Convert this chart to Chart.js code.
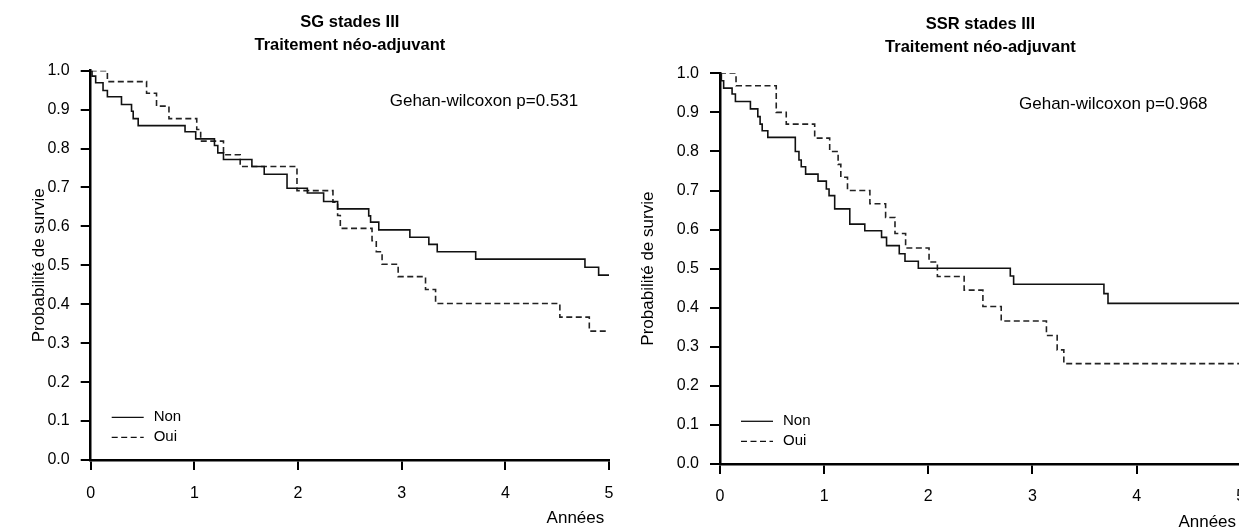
<!DOCTYPE html>
<html><head><meta charset="utf-8">
<script src="https://cdn.jsdelivr.net/npm/chart.js@4/dist/chart.umd.min.js"></script>
<style>
html,body{margin:0;padding:0;background:#fff;overflow:hidden;width:1239px;height:529px;}
#wrapL{position:absolute;left:0;top:0;width:628px;height:529px;}
#wrapR{position:absolute;left:620px;top:0;width:640px;height:533px;}
canvas{display:block;}
</style></head><body>
<div id="wrapL"><canvas id="cL" width="628" height="529"></canvas></div>
<div id="wrapR"><canvas id="cR" width="640" height="533"></canvas></div>
<script>
// ---- data ----
const seriesNames = ['Non', 'Oui'];
const xTickLabels = ['0', '1', '2', '3', '4', '5'];
const yTickLabels = ['0.0','0.1','0.2','0.3','0.4','0.5','0.6','0.7','0.8','0.9','1.0'];
const titlesL = ['SG stades III', 'Traitement néo-adjuvant'];
const titlesR = ['SSR stades III', 'Traitement néo-adjuvant'];
const pTextL = 'Gehan-wilcoxon p=0.531';
const pTextR = 'Gehan-wilcoxon p=0.968';
const xTitle = 'Années';
const yTitle = 'Probabilité de survie';

// SG – Non (solid)
const tL_non = [0, 0.013, 0.048, 0.119, 0.161, 0.297, 0.394, 0.41, 0.458, 0.91, 1.013, 1.194, 1.226, 1.281, 1.555, 1.674, 1.894, 2.09, 2.247, 2.382, 2.682, 2.70, 2.779, 3.079, 3.262, 3.343, 3.714, 4.768, 4.9, 5.0];
const sL_non = [1.0, 0.986, 0.969, 0.949, 0.933, 0.913, 0.896, 0.877, 0.859, 0.843, 0.825, 0.808, 0.789, 0.772, 0.754, 0.734, 0.698, 0.686, 0.664, 0.645, 0.627, 0.611, 0.591, 0.572, 0.554, 0.535, 0.516, 0.495, 0.475, 0.475];
// SG – Oui (dashed)
const tL_oui = [0, 0.161, 0.539, 0.635, 0.755, 1.023, 1.061, 1.281, 1.442, 1.99, 2.337, 2.382, 2.408, 2.714, 2.755, 2.811, 2.966, 3.23, 3.327, 4.526, 4.81, 5.0];
const sL_oui = [1.0, 0.972, 0.942, 0.909, 0.877, 0.849, 0.819, 0.784, 0.754, 0.692, 0.662, 0.628, 0.595, 0.563, 0.535, 0.503, 0.471, 0.438, 0.402, 0.367, 0.331, 0.331];
// SSR – Non (solid)
const tR_non = [0, 0.013, 0.035, 0.116, 0.148, 0.292, 0.363, 0.385, 0.405, 0.459, 0.723, 0.758, 0.78, 0.822, 0.941, 1.021, 1.047, 1.101, 1.246, 1.39, 1.551, 1.599, 1.721, 1.776, 1.904, 2.787, 2.819, 3.686, 3.725, 5.0];
const sR_non = [1.0, 0.981, 0.962, 0.947, 0.928, 0.909, 0.889, 0.87, 0.853, 0.836, 0.8, 0.778, 0.761, 0.742, 0.724, 0.704, 0.687, 0.653, 0.614, 0.597, 0.58, 0.559, 0.538, 0.519, 0.501, 0.481, 0.46, 0.436, 0.411, 0.411];
// SSR – Oui (dashed)
const tR_oui = [0, 0.154, 0.54, 0.636, 0.909, 1.053, 1.134, 1.16, 1.224, 1.439, 1.59, 1.68, 1.782, 2.007, 2.087, 2.344, 2.524, 2.7, 3.134, 3.237, 3.301, 5.0];
const sR_oui = [1.0, 0.968, 0.9, 0.87, 0.834, 0.8, 0.767, 0.734, 0.7, 0.666, 0.631, 0.59, 0.553, 0.517, 0.48, 0.445, 0.403, 0.366, 0.329, 0.292, 0.257, 0.257];

// ---- chart building ----
const FAM = '"Liberation Sans", Arial, Helvetica, sans-serif';
const pts = (t, s) => t.map((v, i) => ({x: v, y: s[i]}));

const overlay = {
  id: 'overlay',
  afterDraw(chart, args, opts) {
    const {ctx, chartArea: a} = chart;
    ctx.save();
    ctx.fillStyle = '#000';
    ctx.textBaseline = 'middle';
    ctx.textAlign = 'left';
    ctx.font = '17px ' + FAM;
    ctx.fillText(opts.text, a.left + 299, a.top + 31);
    ctx.font = '15px ' + FAM;
    chart.data.datasets.forEach((ds, i) => {
      const y = a.bottom - 42.7 + i * 20;
      ctx.strokeStyle = '#111';
      ctx.lineWidth = 1.3;
      ctx.setLineDash(ds.borderDash || []);
      ctx.beginPath();
      ctx.moveTo(a.left + 21, y);
      ctx.lineTo(a.left + 53, y);
      ctx.stroke();
      ctx.setLineDash([]);
      ctx.fillText(ds.label, a.left + 63, y);
    });
    ctx.restore();
  }
};

function makeChart(id, o) {
  return new Chart(document.getElementById(id), {
    type: 'line',
    data: {
      datasets: [
        {label: seriesNames[0], data: pts(o.t1, o.s1), borderColor: '#111', borderWidth: 1.6, stepped: true, pointRadius: 0, fill: false},
        {label: seriesNames[1], data: pts(o.t2, o.s2), borderColor: '#222', borderWidth: 1.6, borderDash: [6, 3.5], stepped: true, pointRadius: 0, fill: false}
      ]
    },
    options: {
      responsive: false,
      animation: false,
      devicePixelRatio: 1,
      layout: {padding: {left: 0, right: o.padRight, top: 0, bottom: 0}},
      plugins: {
        legend: {display: false},
        tooltip: {enabled: false},
        title: {
          display: true, text: o.title, fullSize: false, color: '#000',
          font: {family: FAM, size: 16.5, weight: 'bold', lineHeight: 23 / 16.5},
          padding: {top: o.titleTop, bottom: o.titleBottom}
        },
        overlay: {text: o.pText}
      },
      scales: {
        x: {
          type: 'linear', min: 0, max: 5,
          afterFit: s => { s.height = o.xHeight; },
          ticks: {stepSize: 1, autoSkip: false, maxRotation: 0, color: '#000', padding: o.xTickPad,
                  font: {family: FAM, size: 16},
                  callback: v => xTickLabels[Math.round(v)]},
          grid: {display: true, drawOnChartArea: false, drawTicks: true, tickLength: 10, color: '#000', lineWidth: 2},
          border: {display: true, color: '#000', width: 2.5},
          title: {display: true, text: xTitle + ' ', align: 'end', color: '#000',
                  font: {family: FAM, size: 17}, padding: {top: 0, bottom: o.xTitlePad}}
        },
        y: {
          type: 'linear', min: 0, max: 1,
          afterFit: s => { s.width = o.yWidth; },
          ticks: {stepSize: 0.1, autoSkip: false, color: '#000', padding: 11,
                  font: {family: FAM, size: 16},
                  callback: v => yTickLabels[Math.round(v * 10)]},
          grid: {display: true, drawOnChartArea: false, drawTicks: true, tickLength: 10, color: '#000', lineWidth: 2},
          border: {display: true, color: '#000', width: 2.5},
          title: {display: true, text: yTitle, color: '#000',
                  font: {family: FAM, size: 17}, padding: {top: o.yTitlePad, bottom: 0}}
        }
      }
    },
    plugins: [overlay]
  });
}

makeChart('cL', {
  t1: tL_non, s1: sL_non, t2: tL_oui, s2: sL_oui,
  title: titlesL, pText: pTextL,
  padRight: 19, titleTop: 10.5, titleBottom: 14.2,
  xHeight: 69, xTickPad: 13.5, xTitlePad: 0,
  yWidth: 90.7, yTitlePad: 28.8
});
makeChart('cR', {
  t1: tR_non, s1: sR_non, t2: tR_oui, s2: sR_oui,
  title: titlesR, pText: pTextR,
  padRight: 19.2, titleTop: 12.5, titleBottom: 14.8,
  xHeight: 69, xTickPad: 13, xTitlePad: 0.7,
  yWidth: 100, yTitlePad: 17.8
});
</script>
</body></html>
